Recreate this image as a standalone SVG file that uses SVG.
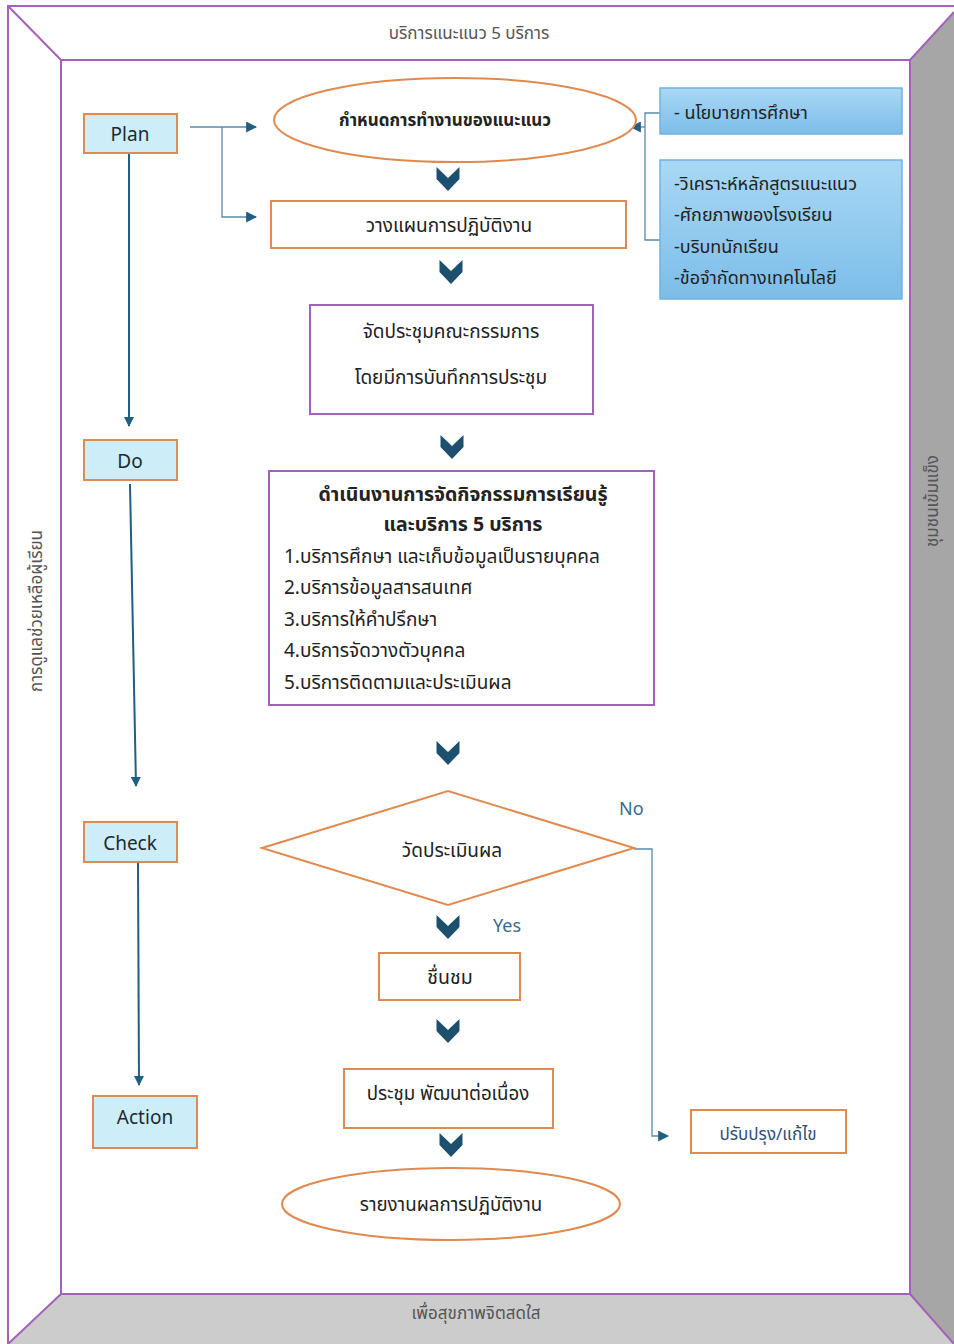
<svg xmlns="http://www.w3.org/2000/svg" width="954" height="1344" viewBox="0 0 954 1344">
<defs>
  <linearGradient id="blueg" x1="0" y1="0" x2="0" y2="1">
    <stop offset="0" stop-color="#a9d8f5"/>
    <stop offset="1" stop-color="#7cbde9"/>
  </linearGradient>
  <marker id="arr" viewBox="0 0 10 10" refX="9" refY="5" markerWidth="10" markerHeight="10" markerUnits="userSpaceOnUse" orient="auto">
    <path d="M0,0 L10,5 L0,10 z" fill="#1f5f80"/>
  </marker>
  <marker id="arr2" viewBox="0 0 10 10" refX="9" refY="5" markerWidth="11" markerHeight="11" markerUnits="userSpaceOnUse" orient="auto">
    <path d="M0,0 L10,5 L0,10 z" fill="#1f5f80"/>
  </marker>
  <path id="chev" d="M-11.5,-12 L0,-1 L11.5,-12 L11.5,0 L0,12 L-11.5,0 z"/>
</defs>
<style>
  .frame{stroke:#a262b8;stroke-width:2;fill:none}
  .pdca{fill:#cdeef9;stroke:#e08a4f;stroke-width:2}
  .ob{fill:#ffffff;stroke:#e08a4f;stroke-width:2}
  .pb{fill:#ffffff;stroke:#a262b8;stroke-width:2}
  .bb{fill:url(#blueg);stroke:#72b2de;stroke-width:1.5}
  .t{font-family:"Noto Sans Thai","Noto Sans","Tahoma","Liberation Sans",sans-serif;fill:#222}
  .lbl{font-family:"Noto Sans","Liberation Sans",sans-serif;font-size:19px;fill:#1e2a30;text-anchor:middle}
  .side{font-family:"Noto Sans Thai","Noto Sans","Liberation Sans",sans-serif;font-size:17px;fill:#555;text-anchor:middle}
  .mid{text-anchor:middle}
  .c{fill:#1d4f6e}
  .main{stroke:#1f5f80;stroke-width:2;fill:none}
  .thin{stroke:#5a8ba6;stroke-width:1.3;fill:none}
  .yn{font-family:"Noto Sans","Liberation Sans",sans-serif;font-size:18px;fill:#3a6a8c}
</style>

<g id="frame">
  <rect x="0" y="0" width="954" height="1344" fill="#ffffff"/>
  <polygon points="910,60 954,12 954,1344 954,1344 910,1294" fill="#a6a6a6"/>
  <polygon points="61,1294 910,1294 954,1344 8,1344" fill="#cccccc"/>
  <rect x="8" y="6" width="960" height="1350" class="frame"/>
  <rect x="61" y="60" width="849" height="1234" class="frame"/>
  <line x1="8" y1="6" x2="61" y2="60" class="frame"/>
  <line x1="954" y1="12" x2="910" y2="60" class="frame"/>
  <line x1="8" y1="1344" x2="61" y2="1294" class="frame"/>
  <line x1="954" y1="1344" x2="910" y2="1294" class="frame"/>
  <text class="side" x="469" y="39">บริการแนะแนว 5 บริการ</text>
  <text class="side" x="476" y="1319">เพื่อสุขภาพจิตสดใส</text>
  <text class="side" transform="translate(42,611) rotate(-90)">การดูแลช่วยเหลือผู้เรียน</text>
  <text class="side" transform="translate(938,501) rotate(-90)">ชุมชนเข้มแข็ง</text>
</g>

<g id="connectors">
  <line x1="129" y1="153" x2="129" y2="426" class="main" marker-end="url(#arr)"/>
  <line x1="130" y1="484" x2="136" y2="786" class="main" marker-end="url(#arr)"/>
  <line x1="138" y1="862" x2="139" y2="1085" class="main" marker-end="url(#arr)"/>
  <path d="M190,127 H256" class="thin" marker-end="url(#arr2)"/>
  <path d="M222,127 V217 H256" class="thin" marker-end="url(#arr2)"/>
  <path d="M660,113 H645 V240 H660" class="thin"/>
  <path d="M645,127 H631" class="thin" marker-end="url(#arr2)"/>
  <path d="M634,849 H652 V1136 H668" class="thin" marker-end="url(#arr2)"/>
  <use href="#chev" class="c" x="448" y="179"/>
  <use href="#chev" class="c" x="451" y="272"/>
  <use href="#chev" class="c" x="452" y="447"/>
  <use href="#chev" class="c" x="448" y="753"/>
  <use href="#chev" class="c" x="448" y="927"/>
  <use href="#chev" class="c" x="448" y="1031"/>
  <use href="#chev" class="c" x="451" y="1145"/>
  <text class="yn" x="619" y="815">No</text>
  <text class="yn" x="493" y="932">Yes</text>
</g>

<g id="plan">
  <rect x="84" y="114" width="93" height="39" class="pdca"/>
  <text class="lbl" x="130" y="141">Plan</text>
</g>
<g id="do">
  <rect x="84" y="440" width="93" height="40" class="pdca"/>
  <text class="lbl" x="130" y="468">Do</text>
</g>
<g id="check">
  <rect x="84" y="822" width="93" height="40" class="pdca"/>
  <text class="lbl" x="130" y="850">Check</text>
</g>
<g id="action">
  <rect x="93" y="1096" width="104" height="52" class="pdca"/>
  <text class="lbl" x="145" y="1124">Action</text>
</g>

<g id="n-ellipse1">
  <ellipse cx="455" cy="120" rx="181" ry="42" class="ob"/>
  <text class="t mid" x="445" y="126" font-size="17" font-weight="bold">กำหนดการทำงานของแนะแนว</text>
</g>
<g id="n-plan2">
  <rect x="271" y="201" width="355" height="47" class="ob"/>
  <text class="t mid" x="449" y="232" font-size="19">วางแผนการปฏิบัติงาน</text>
</g>
<g id="n-meeting">
  <rect x="310" y="305" width="283" height="109" class="pb"/>
  <text class="t mid" x="451" y="338" font-size="19">จัดประชุมคณะกรรมการ</text>
  <text class="t mid" x="451" y="384" font-size="19">โดยมีการบันทึกการประชุม</text>
</g>
<g id="n-do">
  <rect x="269" y="471" width="385" height="234" class="pb"/>
  <text class="t mid" x="463" y="501" font-size="19.5" font-weight="bold">ดำเนินงานการจัดกิจกรรมการเรียนรู้</text>
  <text class="t mid" x="463" y="531" font-size="19.5" font-weight="bold">และบริการ 5 บริการ</text>
  <text class="t" x="284" y="563" font-size="19">1.บริการศึกษา และเก็บข้อมูลเป็นรายบุคคล</text>
  <text class="t" x="284" y="594" font-size="19">2.บริการข้อมูลสารสนเทศ</text>
  <text class="t" x="284" y="626" font-size="19">3.บริการให้คำปรึกษา</text>
  <text class="t" x="284" y="657" font-size="19">4.บริการจัดวางตัวบุคคล</text>
  <text class="t" x="284" y="689" font-size="19">5.บริการติดตามและประเมินผล</text>
</g>
<g id="n-eval">
  <polygon points="262,848 448,791 634,848 448,905" class="ob"/>
  <text class="t mid" x="452" y="857" font-size="19">วัดประเมินผล</text>
</g>
<g id="n-praise">
  <rect x="379" y="953" width="141" height="47" class="ob"/>
  <text class="t mid" x="450" y="984" font-size="19.5">ชื่นชม</text>
</g>
<g id="n-develop">
  <rect x="344" y="1069" width="209" height="59" class="ob"/>
  <text class="t mid" x="448" y="1100" font-size="18.7">ประชุม พัฒนาต่อเนื่อง</text>
</g>
<g id="n-report">
  <ellipse cx="451" cy="1204" rx="169" ry="36" class="ob"/>
  <text class="t mid" x="451" y="1211" font-size="18.7">รายงานผลการปฏิบัติงาน</text>
</g>
<g id="n-improve">
  <rect x="691" y="1110" width="155" height="43" class="ob"/>
  <text class="t mid" x="768" y="1140" font-size="17" style="fill:#2d4f7a">ปรับปรุง/แก้ไข</text>
</g>
<g id="n-policy">
  <rect x="660" y="88" width="242" height="46" class="bb"/>
  <text class="t" x="674" y="119" font-size="18">- นโยบายการศึกษา</text>
</g>
<g id="n-factors">
  <rect x="660" y="160" width="242" height="139" class="bb"/>
  <text class="t" x="674" y="190" font-size="18">-วิเคราะห์หลักสูตรแนะแนว</text>
  <text class="t" x="674" y="221" font-size="18">-ศักยภาพของโรงเรียน</text>
  <text class="t" x="674" y="253" font-size="18">-บริบทนักเรียน</text>
  <text class="t" x="674" y="284" font-size="18">-ข้อจำกัดทางเทคโนโลยี</text>
</g>
</svg>
